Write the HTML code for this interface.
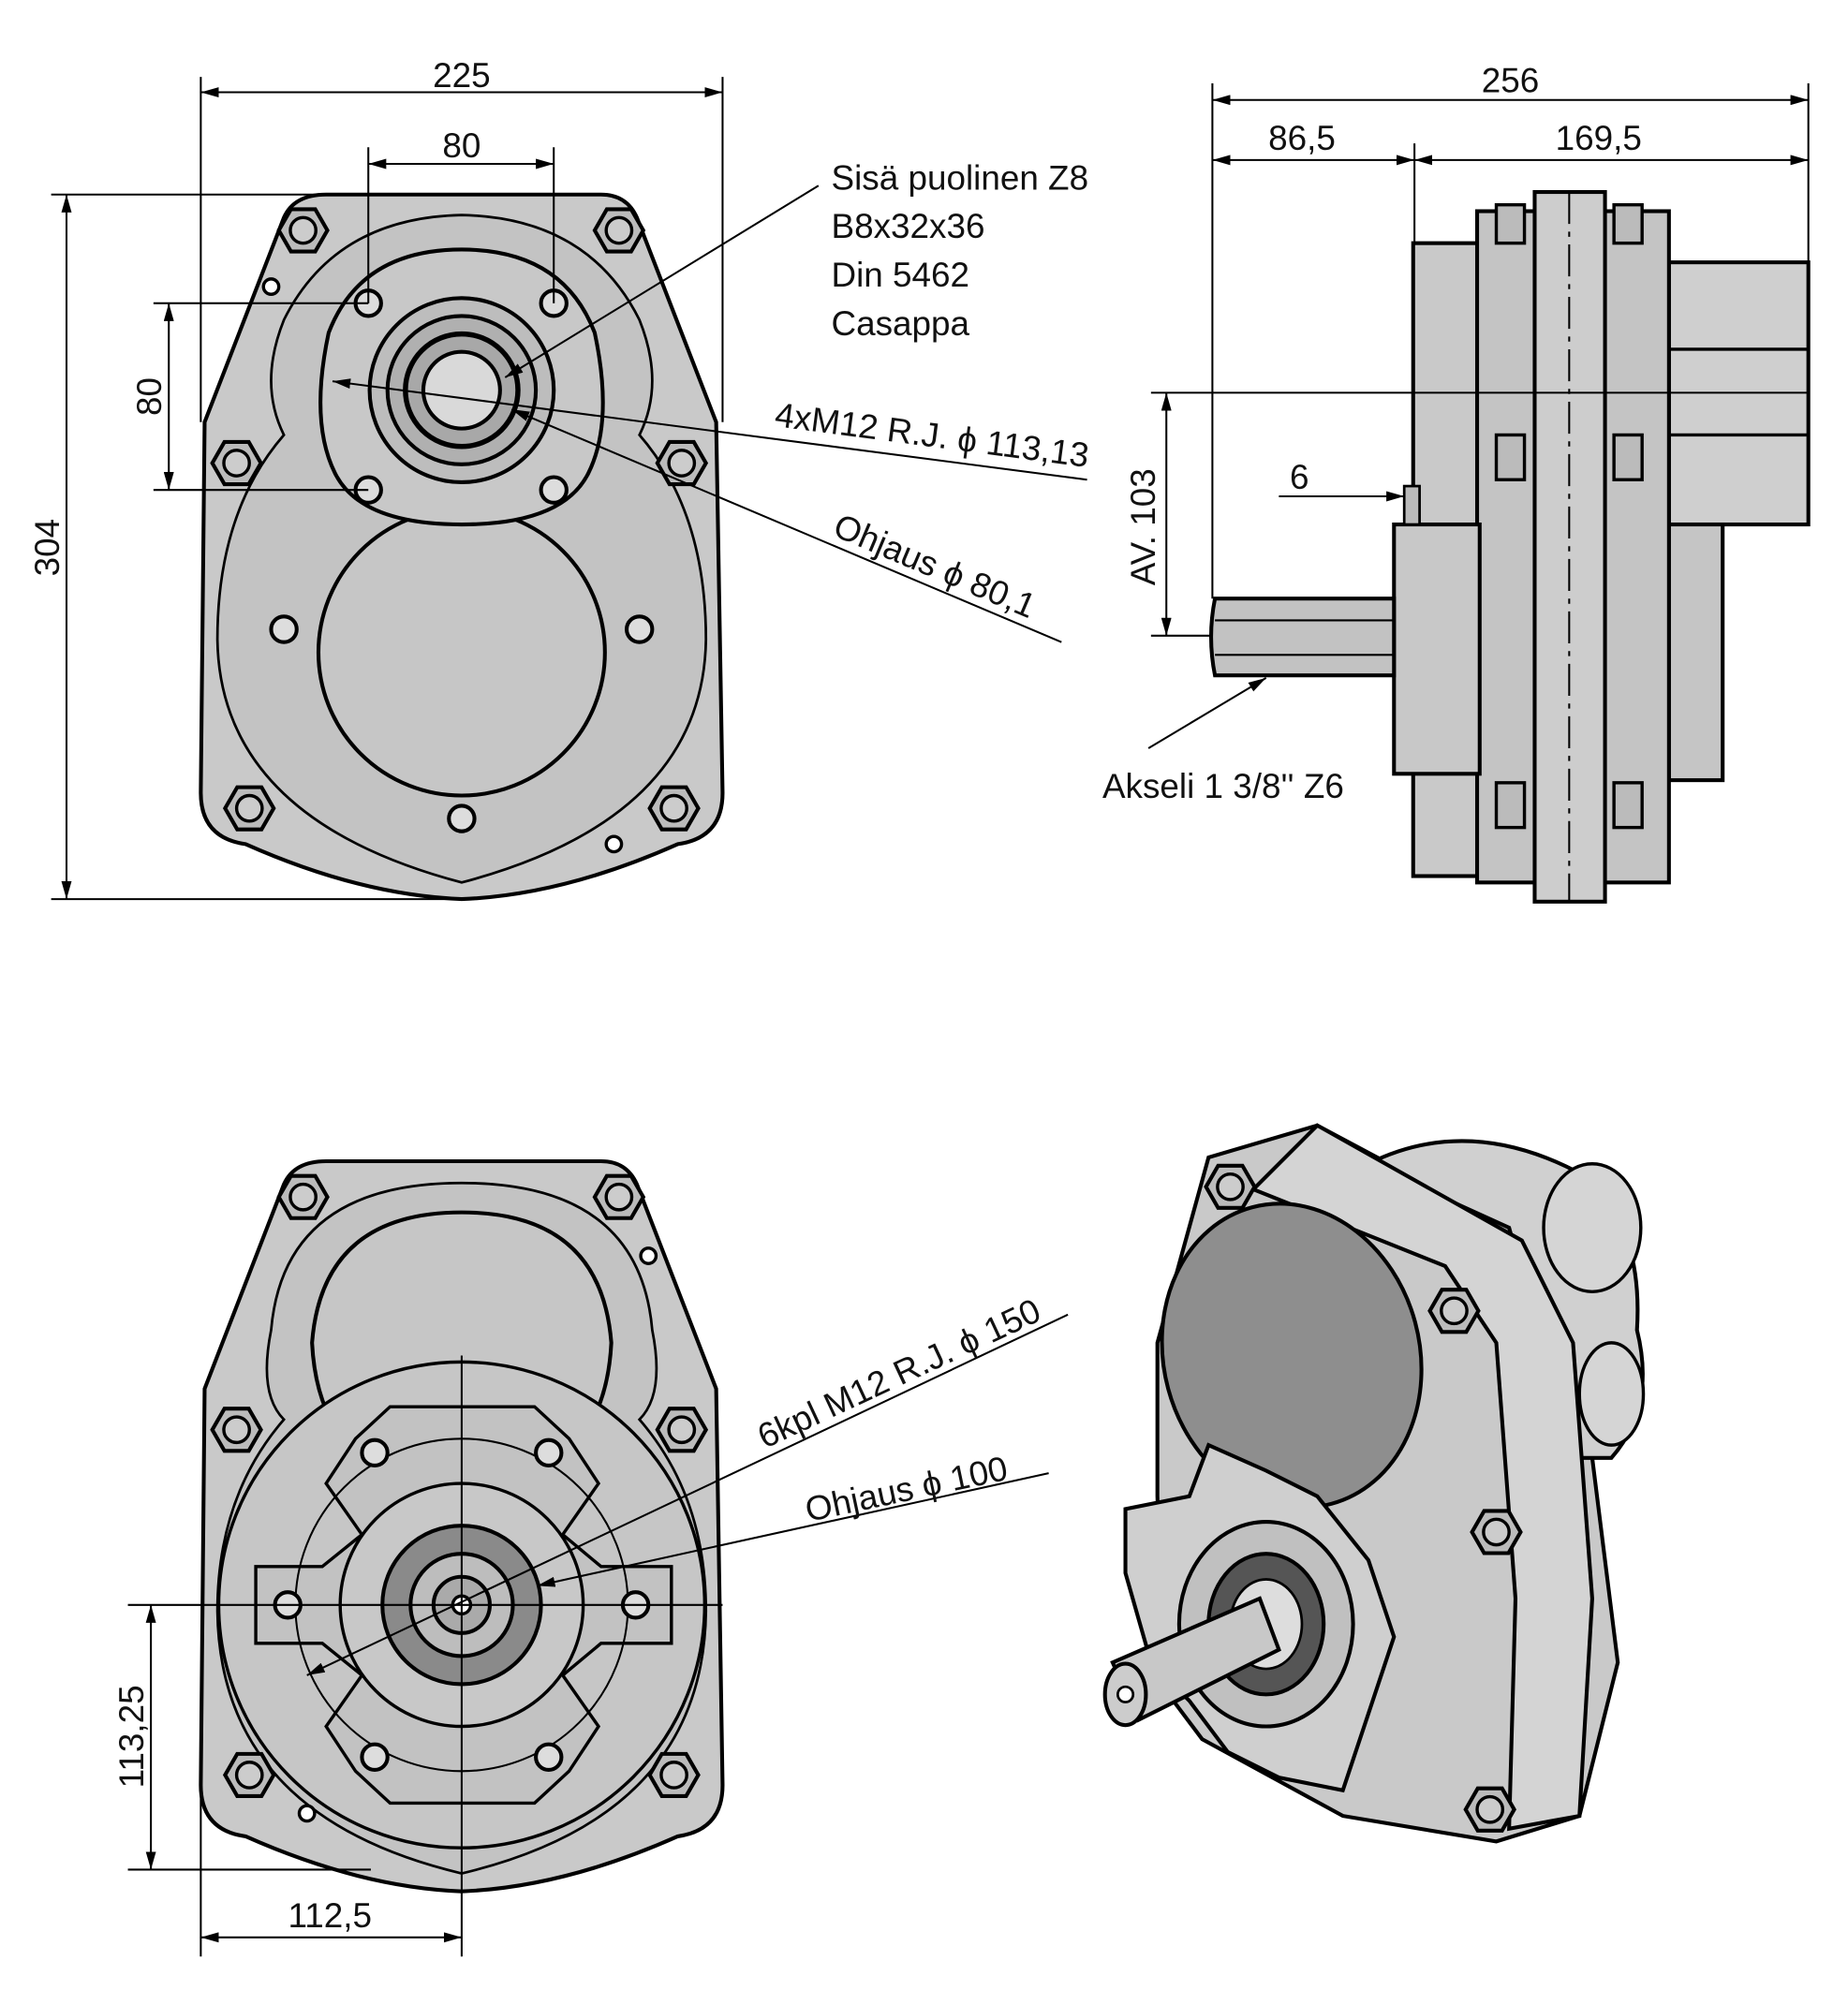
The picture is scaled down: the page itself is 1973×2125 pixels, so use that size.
<!DOCTYPE html>
<html><head><meta charset="utf-8"><style>html,body{margin:0;padding:0;background:#fff}svg{display:block}text{font-family:"Liberation Sans",sans-serif;font-size:27px;fill:#111}</style></head><body>
<svg width="1973" height="2125" viewBox="0 0 1445 1556" xmlns="http://www.w3.org/2000/svg">
<defs>
<marker id="a" markerWidth="14" markerHeight="8" refX="14" refY="4" orient="auto-start-reverse" markerUnits="userSpaceOnUse"><path d="M0,0 L14,4 L0,8z" fill="#000"/></marker>
<g id="hex"><polygon points="-19,0 -9.5,-16.5 9.5,-16.5 19,0 9.5,16.5 -9.5,16.5" fill="#bbb" stroke="#000" stroke-width="3"/><circle r="10" fill="#ccc" stroke="#000" stroke-width="2.5"/></g>
<g id="hole"><circle r="10" fill="#ddd" stroke="#000" stroke-width="3"/></g>
</defs>
<g stroke="#000" fill="none" stroke-width="1.5">
<!-- TOP LEFT VIEW -->
<path d="M255,152 L470,152 Q490,152 498,170 L560,330 L565,620 Q565,655 530,660 Q440,700 361,703 Q282,700 192,660 Q157,655 157,620 L160,330 L222,170 Q230,152 255,152z" fill="#c9c9c9" stroke-width="3"/>
<path d="M361,168 Q460,170 500,250 Q520,300 500,340 Q552,400 552,500 Q550,640 361,690 Q172,640 170,500 Q170,400 222,340 Q202,300 222,250 Q262,170 361,168z" fill="#c3c3c3" stroke-width="2"/>
<circle cx="361" cy="510" r="112" fill="#c6c6c6" stroke-width="3"/>
<path d="M361,195 Q440,195 465,260 Q480,330 460,370 Q440,410 361,410 Q282,410 262,370 Q242,330 257,260 Q282,195 361,195z" fill="#c8c8c8" stroke-width="3"/>
<circle cx="361" cy="305" r="72" fill="#bdbdbd" stroke-width="3"/>
<circle cx="361" cy="305" r="58" fill="#b0b0b0" stroke-width="3"/>
<circle cx="361" cy="305" r="44" fill="#a8a8a8" stroke-width="4"/>
<circle cx="361" cy="305" r="30" fill="#d9d9d9" stroke-width="3"/>
<use href="#hole" x="288" y="237"/><use href="#hole" x="433" y="237"/><use href="#hole" x="288" y="383"/><use href="#hole" x="433" y="383"/>
<use href="#hex" x="237" y="180"/><use href="#hex" x="484" y="180"/><use href="#hex" x="185" y="362"/><use href="#hex" x="533" y="362"/><use href="#hex" x="195" y="632"/><use href="#hex" x="527" y="632"/>
<use href="#hole" x="222" y="492"/><use href="#hole" x="500" y="492"/><use href="#hole" x="361" y="640"/>
<circle cx="212" cy="224" r="6" fill="#fff" stroke-width="2.5"/><circle cx="480" cy="660" r="6" fill="#fff" stroke-width="2.5"/>
<!-- dims -->
<line x1="157" y1="60" x2="157" y2="330"/><line x1="565" y1="60" x2="565" y2="330"/>
<line x1="157" y1="72" x2="565" y2="72" marker-start="url(#a)" marker-end="url(#a)"/>
<line x1="288" y1="115" x2="288" y2="237"/><line x1="433" y1="115" x2="433" y2="237"/>
<line x1="288" y1="128" x2="433" y2="128" marker-start="url(#a)" marker-end="url(#a)"/>
<line x1="40" y1="152" x2="255" y2="152"/><line x1="40" y1="703" x2="361" y2="703"/>
<line x1="52" y1="152" x2="52" y2="703" marker-start="url(#a)" marker-end="url(#a)"/>
<line x1="120" y1="237" x2="288" y2="237"/><line x1="120" y1="383" x2="288" y2="383"/>
<line x1="132" y1="237" x2="132" y2="383" marker-start="url(#a)" marker-end="url(#a)"/>
<line x1="640" y1="145" x2="395" y2="295" marker-end="url(#a)"/>
<line x1="260" y1="298" x2="850" y2="375" marker-start="url(#a)"/>
<line x1="400" y1="320" x2="830" y2="502" marker-start="url(#a)"/>
<!-- SIDE VIEW -->
<rect x="1105" y="190" width="52" height="495" fill="#c9c9c9" stroke-width="3"/>
<rect x="1305" y="205" width="109" height="205" fill="#cfcfcf" stroke-width="3"/>
<line x1="1305" y1="273" x2="1414" y2="273" stroke-width="2.5"/><line x1="1305" y1="340" x2="1414" y2="340" stroke-width="2.5"/>
<rect x="1305" y="410" width="42" height="200" fill="#c5c5c5" stroke-width="3"/>
<rect x="1155" y="165" width="150" height="525" fill="#c4c4c4" stroke-width="3"/>
<rect x="1200" y="150" width="55" height="555" fill="#cdcdcd" stroke-width="3"/>
<line x1="1227" y1="150" x2="1227" y2="705" stroke-dasharray="25,6,4,6"/>
<rect x="1090" y="410" width="67" height="195" fill="#c8c8c8" stroke-width="3"/>
<rect x="1098" y="380" width="12" height="30" fill="#bbb" stroke-width="2"/>
<path d="M950,468 L1090,468 L1090,528 L950,528 Q944,498 950,468z" fill="#c2c2c2" stroke-width="3"/>
<line x1="950" y1="485" x2="1090" y2="485"/><line x1="950" y1="512" x2="1090" y2="512"/>
<g fill="#bbb" stroke-width="2.5"><rect x="1170" y="160" width="22" height="30"/><rect x="1262" y="160" width="22" height="30"/><rect x="1170" y="340" width="22" height="35"/><rect x="1262" y="340" width="22" height="35"/><rect x="1170" y="612" width="22" height="35"/><rect x="1262" y="612" width="22" height="35"/></g>
<line x1="900" y1="307" x2="1414" y2="307"/><line x1="900" y1="497" x2="948" y2="497"/>
<line x1="912" y1="307" x2="912" y2="497" marker-start="url(#a)" marker-end="url(#a)"/>
<line x1="948" y1="65" x2="948" y2="468"/><line x1="1414" y1="65" x2="1414" y2="205"/><line x1="1106" y1="112" x2="1106" y2="190"/>
<line x1="948" y1="78" x2="1414" y2="78" marker-start="url(#a)" marker-end="url(#a)"/>
<line x1="948" y1="125" x2="1106" y2="125" marker-start="url(#a)" marker-end="url(#a)"/>
<line x1="1106" y1="125" x2="1414" y2="125" marker-start="url(#a)" marker-end="url(#a)"/>
<line x1="1000" y1="388" x2="1098" y2="388" marker-end="url(#a)"/>
<line x1="898" y1="585" x2="990" y2="530" marker-end="url(#a)"/>
<!-- BOTTOM LEFT -->
<path d="M255,908 L470,908 Q490,908 498,926 L560,1086 L565,1396 Q565,1431 530,1436 Q440,1476 361,1479 Q282,1476 192,1436 Q157,1431 157,1396 L160,1086 L222,926 Q230,908 255,908z" fill="#c9c9c9" stroke-width="3"/>
<path d="M361,925 Q500,925 510,1040 Q520,1090 500,1110 Q552,1170 552,1260 Q550,1420 361,1465 Q172,1420 170,1260 Q170,1170 222,1110 Q202,1090 212,1040 Q222,925 361,925z" fill="#c3c3c3" stroke-width="2"/>
<path d="M361,948 Q470,948 478,1050 Q475,1110 440,1140 L282,1140 Q247,1110 244,1050 Q252,948 361,948z" fill="#c6c6c6" stroke-width="3"/>
<circle cx="361" cy="1255" r="190" fill="#c6c6c6" stroke-width="2.5"/>
<path d="M305,1100 L418,1100 L445,1125 L468,1160 L440,1200 L470,1225 L525,1225 L525,1285 L470,1285 L440,1310 L468,1350 L445,1385 L418,1410 L305,1410 L278,1385 L255,1350 L283,1310 L252,1285 L200,1285 L200,1225 L252,1225 L283,1200 L255,1160 L278,1125z" fill="#c2c2c2" stroke-width="2.5"/>
<circle cx="361" cy="1255" r="95" fill="#c8c8c8" stroke-width="2.5"/>
<circle cx="361" cy="1255" r="130" stroke-width="1.5"/>
<circle cx="361" cy="1255" r="62" fill="#8a8a8a" stroke-width="3"/>
<circle cx="361" cy="1255" r="40" fill="#bdbdbd" stroke-width="3"/>
<circle cx="361" cy="1255" r="22" fill="#aaa" stroke-width="3"/>
<circle cx="361" cy="1255" r="7" fill="#fff" stroke-width="2.5"/>
<use href="#hole" x="293" y="1136"/><use href="#hole" x="429" y="1136"/><use href="#hole" x="225" y="1255"/><use href="#hole" x="497" y="1255"/><use href="#hole" x="293" y="1374"/><use href="#hole" x="429" y="1374"/>
<use href="#hex" x="237" y="936"/><use href="#hex" x="484" y="936"/><use href="#hex" x="185" y="1118"/><use href="#hex" x="533" y="1118"/><use href="#hex" x="195" y="1388"/><use href="#hex" x="527" y="1388"/>
<circle cx="507" cy="982" r="6" fill="#fff" stroke-width="2.5"/><circle cx="240" cy="1418" r="6" fill="#fff" stroke-width="2.5"/>
<line x1="100" y1="1255" x2="565" y2="1255"/><line x1="361" y1="1060" x2="361" y2="1530"/>
<line x1="100" y1="1462" x2="290" y2="1462"/><line x1="157" y1="1396" x2="157" y2="1530"/>
<line x1="118" y1="1255" x2="118" y2="1462" marker-start="url(#a)" marker-end="url(#a)"/>
<line x1="157" y1="1515" x2="361" y2="1515" marker-start="url(#a)" marker-end="url(#a)"/>
<line x1="835" y1="1028" x2="240" y2="1310" marker-end="url(#a)"/>
<line x1="820" y1="1152" x2="420" y2="1240" marker-end="url(#a)"/>
<!-- ISO VIEW -->
<path d="M945,905 L1030,880 L1180,960 L1230,1010 L1245,1140 L1265,1300 L1235,1420 L1170,1440 L1050,1420 L940,1360 L910,1320 L905,1170 L905,1050z" fill="#c9c9c9" stroke-width="3"/>
<path d="M1070,910 Q1150,870 1240,920 Q1285,960 1280,1040 Q1295,1100 1260,1140 L1230,1140 L1180,960z" fill="#d0d0d0" stroke-width="3"/>
<ellipse cx="1245" cy="960" rx="38" ry="50" fill="#d5d5d5" stroke-width="2.5"/><ellipse cx="1260" cy="1090" rx="25" ry="40" fill="#d5d5d5" stroke-width="2.5"/>
<path d="M1030,880 L1190,970 L1230,1050 L1245,1250 L1235,1420 L1180,1430 L1185,1250 L1170,1050 L1130,990 L980,930z" fill="#d4d4d4" stroke-width="3"/>
<ellipse cx="1010" cy="1060" rx="100" ry="120" transform="rotate(-15 1010 1060)" fill="#8e8e8e" stroke-width="3"/>
<path d="M880,1180 L930,1170 L945,1130 L990,1150 L1030,1170 L1070,1220 L1090,1280 L1070,1340 L1050,1400 L1000,1390 L960,1370 L930,1330 L900,1300 L880,1230z" fill="#cfcfcf" stroke-width="3"/>
<ellipse cx="990" cy="1270" rx="68" ry="80" fill="#c0c0c0" stroke-width="3"/>
<ellipse cx="990" cy="1270" rx="45" ry="55" fill="#555" stroke-width="3"/>
<ellipse cx="990" cy="1270" rx="28" ry="35" fill="#ddd" stroke-width="2"/>
<path d="M870,1300 L985,1250 L1000,1290 L890,1345z" fill="#c8c8c8" stroke-width="3"/>
<ellipse cx="880" cy="1325" rx="16" ry="24" fill="#ccc" stroke-width="3"/><circle cx="880" cy="1325" r="6" fill="#fff" stroke-width="2"/>
<use href="#hex" x="962" y="928"/><use href="#hex" x="1137" y="1025"/><use href="#hex" x="1170" y="1198"/><use href="#hex" x="1165" y="1415"/>
</g>
<!-- TEXT -->
<text x="361" y="68" text-anchor="middle">225</text>
<text x="361" y="123" text-anchor="middle">80</text>
<text transform="translate(46,428) rotate(-90)" text-anchor="middle">304</text>
<text transform="translate(126,310) rotate(-90)" text-anchor="middle">80</text>
<text x="650" y="148">Sisä puolinen Z8</text>
<text x="650" y="186">B8x32x36</text>
<text x="650" y="224">Din 5462</text>
<text x="650" y="262">Casappa</text>
<text transform="translate(605,333) rotate(7.5)">4xM12 R.J.  ϕ 113,13</text>
<text transform="translate(650,418) rotate(23)">Ohjaus  ϕ 80,1</text>
<text x="1181" y="72" text-anchor="middle">256</text>
<text x="1018" y="117" text-anchor="middle">86,5</text>
<text x="1250" y="117" text-anchor="middle">169,5</text>
<text transform="translate(903,412) rotate(-90)" text-anchor="middle">AV. 103</text>
<text x="1016" y="382" text-anchor="middle">6</text>
<text x="862" y="624">Akseli 1 3/8'' Z6</text>
<text transform="translate(598,1133) rotate(-25)">6kpl M12 R.J.  ϕ 150</text>
<text transform="translate(632,1190) rotate(-12)">Ohjaus  ϕ 100</text>
<text transform="translate(112,1358) rotate(-90)" text-anchor="middle">113,25</text>
<text x="258" y="1507" text-anchor="middle">112,5</text>
</svg>
</body></html>
